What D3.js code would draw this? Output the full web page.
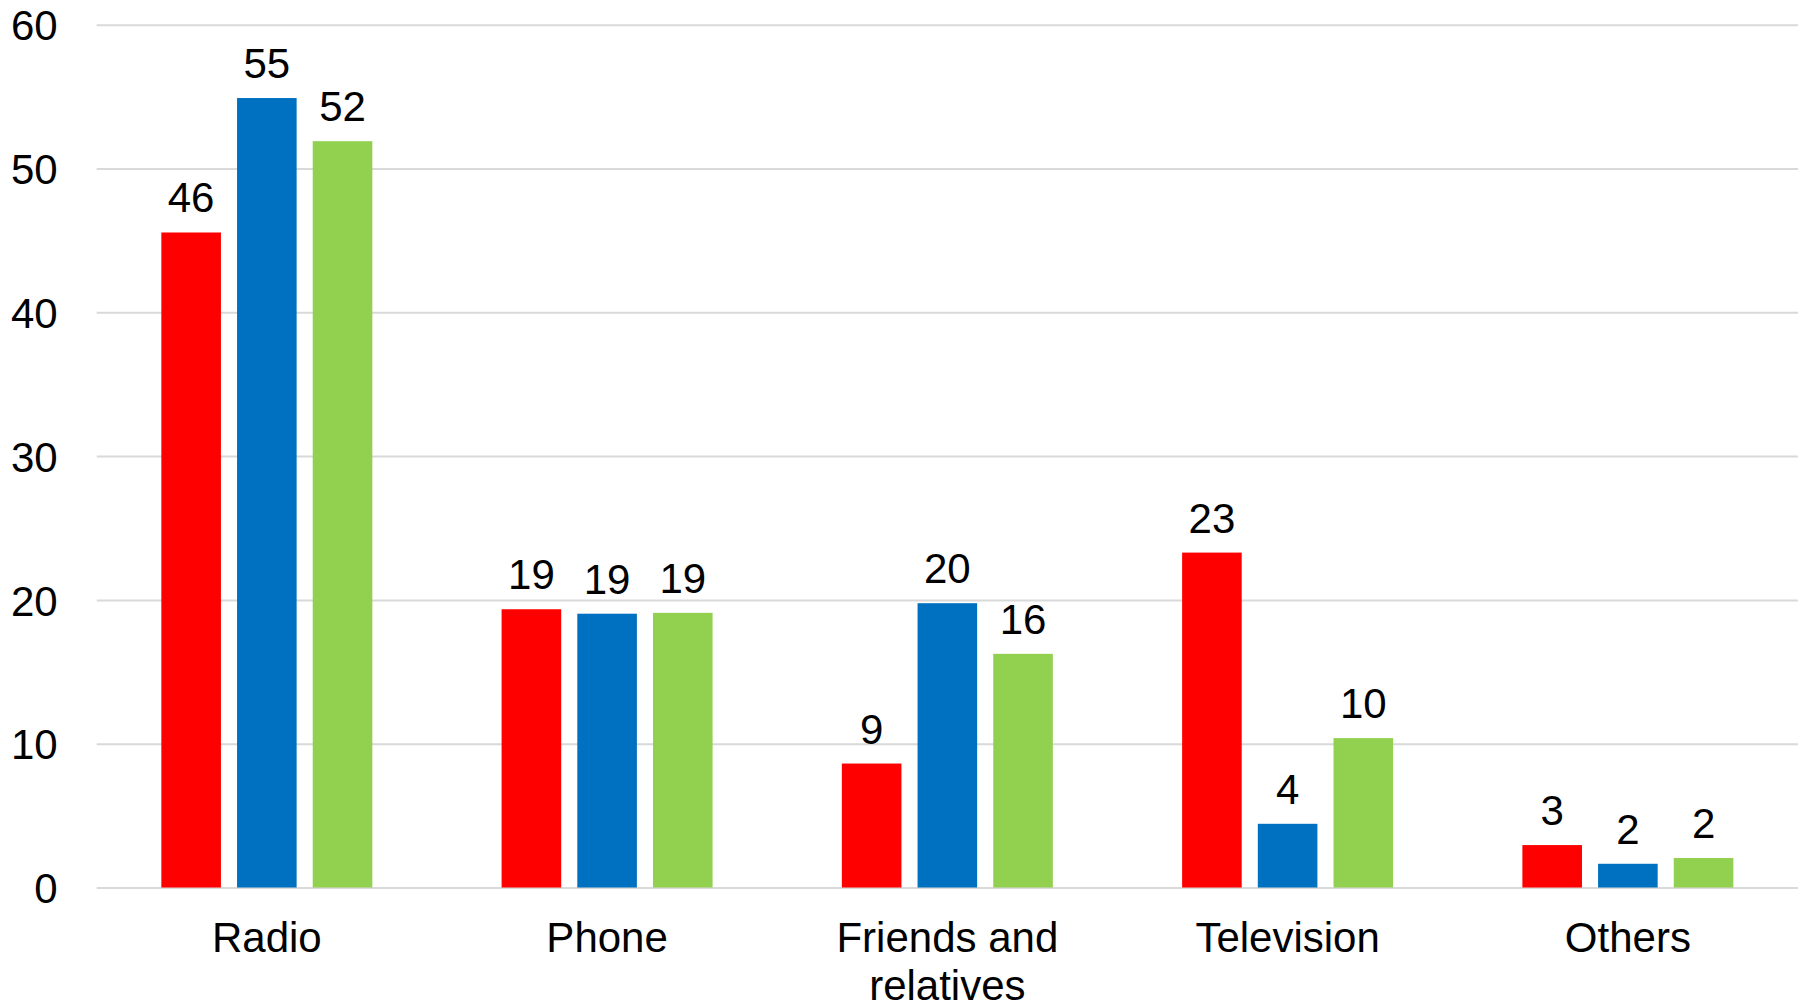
<!DOCTYPE html>
<html>
<head>
<meta charset="utf-8">
<script src="https://cdn.jsdelivr.net/npm/d3@7"></script>
<style>
  html, body { margin: 0; padding: 0; background: #fff; }
  svg { display: block; }
  text { font-family: "Liberation Sans", Arial, sans-serif; fill: #000; }
</style>
</head>
<body>
<svg id="chart" width="1805" height="1004"></svg>
<script>
const categories = ["Radio", "Phone", "Friends and relatives", "Television", "Others"];
const categoryLines = [["Radio"], ["Phone"], ["Friends and", "relatives"], ["Television"], ["Others"]];
const seriesNames = ["Series 1", "Series 2", "Series 3"];
const seriesRed = [45.55, 19.35, 8.62, 23.29, 2.95];
const seriesBlue = [54.9, 19.04, 19.77, 4.43, 1.65];
const seriesGreen = [51.9, 19.1, 16.25, 10.39, 2.05];
const seriesColors = ["#ff0000", "#0070c0", "#92d050"];
const yTicks = [0, 10, 20, 30, 40, 50, 60];

const seriesValues = [seriesRed, seriesBlue, seriesGreen];

const svg = d3.select("#chart");
const plotLeft = 96.7, plotRight = 1798, plotTop = 24.7, plotBottom = 887.5;
const fontSize = 42;

const x0 = d3.scaleBand().domain(categories).range([plotLeft, plotRight]).paddingInner(0).paddingOuter(0);
const x1 = d3.scaleBand().domain(seriesNames).range([0, x0.bandwidth()]).paddingInner(0.2127).paddingOuter(0.854);
const y = d3.scaleLinear().domain([0, 60]).range([plotBottom, plotTop]);

// y axis with gridlines
const yAxis = svg.append("g")
  .attr("transform", `translate(${plotLeft},0)`)
  .call(d3.axisLeft(y).tickValues(yTicks).tickSize(-(plotRight - plotLeft)).tickPadding(39).tickFormat(d3.format("d")));
yAxis.select(".domain").remove();
yAxis.selectAll(".tick line").attr("stroke", "#d9d9d9").attr("stroke-width", 2);
yAxis.selectAll(".tick text")
  .attr("font-size", fontSize)
  .attr("font-family", '"Liberation Sans", Arial, sans-serif')
  .attr("fill", "#000")
  .attr("dy", "0.36em");

// bars
const data = [];
categories.forEach((c, i) => {
  seriesNames.forEach((s, j) => {
    data.push({ cat: c, series: s, value: seriesValues[j][i], color: seriesColors[j] });
  });
});

const groups = svg.append("g");
groups.selectAll("rect")
  .data(data)
  .join("rect")
  .attr("x", d => x0(d.cat) + x1(d.series))
  .attr("width", x1.bandwidth())
  .attr("y", d => y(d.value))
  .attr("height", d => y(0) - y(d.value))
  .attr("fill", d => d.color);

// data labels
groups.selectAll("text.lbl")
  .data(data)
  .join("text")
  .attr("class", "lbl")
  .attr("x", d => x0(d.cat) + x1(d.series) + x1.bandwidth() / 2)
  .attr("y", d => y(d.value) - 20)
  .attr("text-anchor", "middle")
  .attr("font-size", fontSize)
  .text(d => Math.round(d.value));

// x axis
const xAxis = svg.append("g")
  .attr("transform", `translate(0,${plotBottom})`)
  .call(d3.axisBottom(x0).tickSize(0).tickPadding(35));
xAxis.select(".domain").remove();
xAxis.selectAll(".tick text")
  .attr("font-size", fontSize)
  .attr("font-family", '"Liberation Sans", Arial, sans-serif')
  .attr("fill", "#000")
  .each(function(d, i) {
    const t = d3.select(this);
    const lines = categoryLines[categories.indexOf(d)];
    t.text(null);
    lines.forEach((ln, k) => {
      t.append("tspan").attr("x", 0).attr("dy", k === 0 ? "0.71em" : "1.14em").text(ln);
    });
  });
</script>
</body>
</html>
